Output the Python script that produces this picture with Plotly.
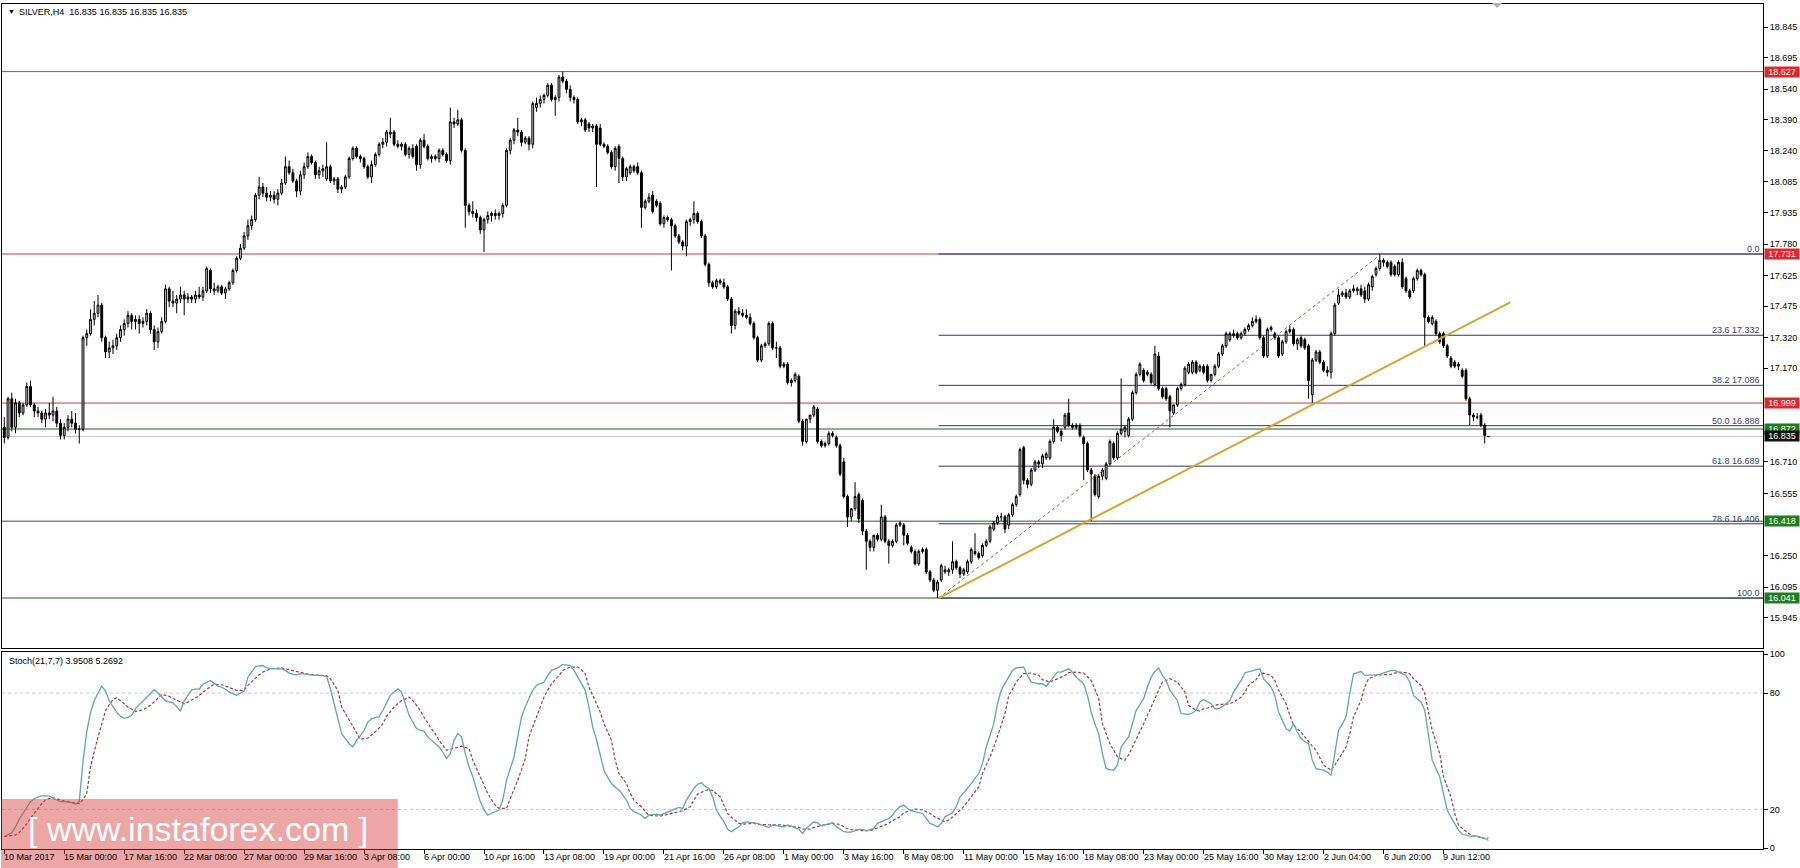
import plotly.graph_objects as go

# ---------------- data ----------------
open_ = [
16.88,16.83,17.02,16.88,17.00,16.95,16.99,17.08,16.99,16.96,
16.95,16.92,16.95,16.94,16.96,16.90,16.84,16.88,16.92,16.90,
16.87,16.87,17.32,17.34,17.41,17.44,17.48,17.32,17.25,17.27,
17.28,17.32,17.36,17.39,17.43,17.40,17.41,17.39,17.40,17.44,
17.36,17.30,17.35,17.40,17.56,17.50,17.49,17.51,17.53,17.51,
17.52,17.51,17.53,17.52,17.55,17.65,17.56,17.55,17.57,17.54,
17.56,17.59,17.65,17.71,17.76,17.82,17.87,17.90,18.02,18.06,
18.03,18.01,18.02,18.00,18.03,18.08,18.16,18.13,18.09,18.04,
18.12,18.16,18.21,18.18,18.12,18.14,18.10,18.16,18.09,18.10,
18.05,18.06,18.11,18.20,18.25,18.21,18.20,18.16,18.11,18.17,
18.22,18.27,18.28,18.32,18.33,18.27,18.26,18.27,18.22,18.25,
18.26,18.17,18.29,18.26,18.20,18.21,18.20,18.24,18.22,18.19,
18.38,18.37,18.39,18.24,17.97,17.94,17.93,17.91,17.85,17.90,
17.92,17.93,17.92,17.93,17.97,18.24,18.29,18.34,18.33,18.28,
18.30,18.27,18.45,18.47,18.49,18.51,18.56,18.49,18.50,18.60,
18.58,18.54,18.50,18.49,18.38,18.39,18.37,18.35,18.36,18.35,
18.27,18.26,18.23,18.16,18.26,18.20,18.11,18.13,18.16,18.16,
18.13,17.96,17.99,18.02,17.99,17.98,17.88,17.91,17.90,17.87,
17.82,17.79,17.77,17.89,17.90,17.93,17.89,17.82,17.68,17.59,
17.57,17.60,17.59,17.57,17.51,17.38,17.45,17.44,17.43,17.42,
17.39,17.32,17.21,17.28,17.29,17.39,17.27,17.27,17.19,17.19,
17.10,17.11,17.13,16.91,16.81,16.92,16.94,16.97,16.81,16.79,
16.80,16.85,16.83,16.79,16.71,16.54,16.44,16.48,16.55,16.52,
16.37,16.32,16.29,16.35,16.33,16.44,16.32,16.30,16.32,16.40,
16.40,16.35,16.29,16.27,16.21,16.27,16.28,16.17,16.13,16.08,
16.13,16.18,16.17,16.18,16.22,16.19,16.16,16.17,16.22,16.27,
16.26,16.25,16.30,16.32,16.38,16.41,16.44,16.44,16.40,16.45,
16.50,16.55,16.78,16.62,16.60,16.67,16.71,16.70,16.73,16.73,
16.81,16.88,16.86,16.88,16.95,16.89,16.88,16.89,16.83,16.80,
16.67,16.64,16.54,16.64,16.63,16.70,16.80,16.73,16.85,16.86,
16.84,16.92,17.05,17.14,17.16,17.14,17.14,17.09,17.23,17.07,
17.07,17.03,16.95,16.99,17.07,17.09,17.15,17.15,17.20,17.16,
17.18,17.18,17.11,17.14,17.18,17.24,17.28,17.31,17.33,17.34,
17.32,17.34,17.36,17.38,17.40,17.41,17.32,17.23,17.36,17.34,
17.32,17.24,17.30,17.35,17.36,17.29,17.32,17.31,17.28,17.04,
17.21,17.25,17.20,17.16,17.15,17.34,17.49,17.53,17.54,17.52,
17.55,17.55,17.56,17.55,17.51,17.57,17.63,17.66,17.69,17.69,
17.69,17.67,17.63,17.69,17.61,17.55,17.55,17.61,17.65,17.63,
17.42,17.39,17.40,17.34,17.34,17.28,17.22,17.20,17.18,17.16,
17.16,17.02,16.94,16.93,16.94,16.89,16.835]

high = [
16.93,17.03,17.05,17.02,17.01,17.00,17.10,17.11,17.00,16.98,
16.96,16.97,17.00,17.03,16.98,16.92,16.90,16.94,16.96,16.95,
16.89,17.33,17.36,17.46,17.50,17.53,17.49,17.33,17.30,17.31,
17.34,17.38,17.41,17.45,17.44,17.43,17.43,17.42,17.46,17.45,
17.38,17.37,17.42,17.58,17.57,17.55,17.53,17.57,17.55,17.54,
17.53,17.55,17.57,17.57,17.67,17.66,17.59,17.58,17.58,17.57,
17.60,17.66,17.72,17.78,17.84,17.90,17.92,18.03,18.11,18.08,
18.06,18.04,18.04,18.05,18.10,18.21,18.19,18.15,18.10,18.14,
18.18,18.23,18.22,18.19,18.16,18.17,18.28,18.17,18.11,18.11,
18.07,18.12,18.21,18.26,18.26,18.22,18.21,18.17,18.19,18.23,
18.28,18.30,18.34,18.40,18.34,18.29,18.28,18.28,18.26,18.27,
18.27,18.30,18.32,18.27,18.22,18.22,18.25,18.25,18.23,18.45,
18.40,18.44,18.40,18.25,17.98,17.99,17.95,17.92,17.91,17.94,
17.94,17.95,17.94,17.98,18.25,18.30,18.35,18.40,18.34,18.31,
18.31,18.48,18.50,18.51,18.52,18.57,18.57,18.51,18.61,18.627,
18.59,18.56,18.51,18.50,18.40,18.40,18.38,18.37,18.37,18.37,
18.28,18.27,18.24,18.26,18.27,18.21,18.16,18.17,18.17,18.18,
18.14,18.00,18.03,18.04,18.00,17.99,17.92,17.92,17.91,17.88,
17.83,17.80,17.90,17.91,17.99,17.94,17.90,17.83,17.69,17.60,
17.61,17.61,17.61,17.58,17.52,17.46,17.47,17.46,17.46,17.44,
17.40,17.33,17.29,17.30,17.40,17.40,17.30,17.28,17.20,17.20,
17.12,17.15,17.14,16.92,16.92,16.94,16.99,16.98,16.82,16.81,
16.86,16.86,16.84,16.80,16.73,16.55,16.48,16.61,16.56,16.53,
16.38,16.33,16.35,16.36,16.50,16.45,16.33,16.33,16.41,16.42,
16.41,16.36,16.30,16.28,16.28,16.29,16.29,16.18,16.14,16.13,
16.21,16.20,16.19,16.32,16.23,16.20,16.19,16.23,16.29,16.36,
16.27,16.31,16.33,16.40,16.42,16.45,16.46,16.45,16.46,16.51,
16.55,16.78,16.79,16.63,16.68,16.72,16.72,16.75,16.76,16.82,
16.92,16.89,16.87,16.95,17.02,16.90,16.90,16.90,16.84,16.81,
16.68,16.65,16.65,16.68,16.71,16.82,16.81,16.86,17.12,16.89,
16.93,17.06,17.15,17.20,17.17,17.16,17.15,17.28,17.25,17.08,
17.08,17.04,16.99,17.08,17.10,17.18,17.20,17.21,17.21,17.19,
17.19,17.19,17.14,17.19,17.25,17.29,17.35,17.35,17.36,17.35,
17.35,17.37,17.39,17.42,17.43,17.42,17.33,17.37,17.38,17.35,
17.33,17.31,17.36,17.38,17.37,17.32,17.33,17.32,17.29,17.22,
17.26,17.26,17.21,17.18,17.35,17.49,17.56,17.55,17.56,17.56,
17.58,17.57,17.58,17.57,17.59,17.63,17.67,17.731,17.71,17.70,
17.70,17.68,17.70,17.71,17.62,17.56,17.62,17.66,17.66,17.64,
17.43,17.43,17.41,17.35,17.35,17.29,17.23,17.21,17.20,17.17,
17.17,17.03,16.95,16.95,16.95,16.90,16.835]

low = [
16.80,16.82,16.86,16.85,16.93,16.94,16.98,16.98,16.93,16.93,
16.90,16.88,16.92,16.91,16.88,16.82,16.82,16.86,16.88,16.85,
16.80,16.86,17.28,17.33,17.38,17.42,17.30,17.22,17.22,17.24,
17.26,17.30,17.33,17.37,17.36,17.36,17.34,17.37,17.38,17.34,
17.26,17.27,17.34,17.39,17.47,17.47,17.44,17.49,17.43,17.49,
17.49,17.49,17.51,17.50,17.54,17.54,17.53,17.54,17.53,17.51,
17.55,17.58,17.64,17.70,17.75,17.80,17.85,17.89,18.00,18.01,
17.99,17.99,17.98,17.97,18.02,18.07,18.12,18.08,18.01,18.02,
18.10,18.15,18.17,18.10,18.10,18.11,18.09,18.08,18.07,18.03,
18.03,18.05,18.10,18.19,18.20,18.18,18.15,18.10,18.08,18.16,
18.21,18.25,18.26,18.30,18.26,18.25,18.24,18.21,18.20,18.20,
18.14,18.15,18.25,18.19,18.18,18.19,18.18,18.21,18.18,18.17,
18.35,18.36,18.23,17.86,17.92,17.91,17.89,17.83,17.74,17.88,
17.89,17.90,17.90,17.91,17.96,18.22,18.27,18.31,18.26,18.27,
18.24,18.25,18.43,18.45,18.47,18.50,18.48,18.41,18.48,18.57,
18.52,18.48,18.47,18.37,18.36,18.33,18.33,18.33,18.06,18.26,
18.25,18.22,18.15,18.14,18.08,18.09,18.09,18.12,18.13,18.12,
17.86,17.95,17.98,17.93,17.96,17.87,17.86,17.89,17.65,17.81,
17.78,17.75,17.72,17.87,17.88,17.88,17.81,17.67,17.57,17.56,
17.56,17.58,17.56,17.50,17.34,17.36,17.43,17.42,17.41,17.38,
17.31,17.20,17.20,17.27,17.28,17.26,17.22,17.17,17.17,17.09,
17.08,17.10,16.90,16.79,16.80,16.90,16.93,16.80,16.78,16.78,
16.79,16.83,16.78,16.64,16.53,16.39,16.42,16.47,16.41,16.35,
16.18,16.27,16.27,16.32,16.32,16.31,16.21,16.29,16.31,16.39,
16.30,16.30,16.26,16.20,16.20,16.26,16.16,16.12,16.07,16.041,
16.12,16.16,16.15,16.16,16.18,16.14,16.15,16.16,16.21,16.25,
16.23,16.24,16.29,16.31,16.37,16.40,16.42,16.36,16.38,16.44,
16.49,16.54,16.60,16.58,16.59,16.66,16.68,16.68,16.72,16.72,
16.80,16.85,16.81,16.87,16.88,16.87,16.87,16.83,16.62,16.66,
16.42,16.54,16.53,16.62,16.62,16.69,16.72,16.72,16.84,16.83,
16.83,16.91,17.04,17.13,17.10,17.13,17.09,17.08,17.06,17.02,
17.01,16.88,16.94,16.98,17.06,17.08,17.14,17.14,17.14,17.15,
17.14,17.10,17.10,17.13,17.17,17.23,17.27,17.30,17.32,17.31,
17.31,17.33,17.35,17.37,17.39,17.31,17.22,17.22,17.35,17.31,
17.22,17.23,17.29,17.34,17.28,17.26,17.27,17.26,17.02,17.00,
17.20,17.19,17.15,17.13,17.12,17.33,17.48,17.52,17.51,17.51,
17.54,17.53,17.52,17.49,17.50,17.55,17.62,17.65,17.67,17.66,
17.62,17.62,17.62,17.56,17.54,17.51,17.54,17.60,17.62,17.28,
17.39,17.38,17.33,17.29,17.27,17.22,17.17,17.17,17.16,17.12,
17.01,16.89,16.91,16.92,16.88,16.80,16.835]

close = [
16.83,17.02,16.88,17.00,16.95,16.99,17.08,16.99,16.96,16.95,
16.92,16.95,16.94,16.96,16.90,16.84,16.88,16.92,16.90,16.87,
16.87,17.32,17.34,17.41,17.44,17.48,17.32,17.25,17.27,17.28,
17.32,17.36,17.39,17.43,17.40,17.41,17.39,17.40,17.44,17.36,
17.30,17.35,17.40,17.56,17.50,17.49,17.51,17.53,17.51,17.52,
17.51,17.53,17.52,17.55,17.66,17.56,17.55,17.57,17.54,17.56,
17.59,17.65,17.71,17.76,17.82,17.87,17.90,18.02,18.06,18.03,
18.01,18.02,18.00,18.03,18.08,18.16,18.13,18.09,18.04,18.12,
18.16,18.21,18.18,18.12,18.14,18.15,18.16,18.09,18.10,18.05,
18.06,18.11,18.20,18.25,18.21,18.20,18.16,18.11,18.17,18.22,
18.27,18.28,18.33,18.33,18.27,18.26,18.27,18.22,18.25,18.21,
18.17,18.29,18.26,18.20,18.21,18.20,18.24,18.22,18.19,18.38,
18.37,18.39,18.24,17.97,17.94,17.93,17.91,17.85,17.90,17.92,
17.93,17.92,17.93,17.97,18.24,18.29,18.34,18.33,18.28,18.30,
18.27,18.47,18.47,18.49,18.51,18.56,18.49,18.50,18.60,18.58,
18.54,18.50,18.49,18.38,18.39,18.34,18.35,18.36,18.27,18.27,
18.26,18.23,18.16,18.25,18.20,18.11,18.15,18.16,18.14,18.13,
17.96,17.99,18.01,17.94,17.97,17.88,17.91,17.90,17.87,17.82,
17.79,17.77,17.89,17.90,17.93,17.89,17.82,17.68,17.59,17.57,
17.60,17.59,17.57,17.51,17.38,17.45,17.44,17.43,17.42,17.39,
17.32,17.21,17.28,17.29,17.39,17.27,17.27,17.18,17.18,17.10,
17.11,17.14,16.91,16.81,16.92,16.94,16.98,16.81,16.79,16.80,
16.85,16.84,16.79,16.65,16.54,16.44,16.48,16.54,16.43,16.37,
16.32,16.29,16.35,16.33,16.44,16.32,16.30,16.32,16.40,16.41,
16.35,16.31,16.27,16.21,16.27,16.28,16.17,16.13,16.08,16.12,
16.20,16.17,16.18,16.22,16.19,16.16,16.18,16.22,16.28,16.26,
16.24,16.30,16.32,16.39,16.41,16.44,16.44,16.38,16.45,16.50,
16.54,16.77,16.62,16.60,16.67,16.71,16.70,16.74,16.75,16.81,
16.88,16.86,16.84,16.94,16.89,16.88,16.89,16.84,16.80,16.67,
16.65,16.55,16.64,16.67,16.70,16.81,16.73,16.85,16.87,16.88,
16.92,17.05,17.14,17.19,17.11,17.15,17.10,17.24,17.07,17.03,
17.02,16.96,16.99,17.07,17.09,17.17,17.19,17.20,17.15,17.18,
17.15,17.11,17.14,17.18,17.24,17.28,17.34,17.34,17.34,17.32,
17.34,17.36,17.38,17.40,17.41,17.32,17.23,17.36,17.37,17.32,
17.23,17.30,17.35,17.36,17.29,17.31,17.28,17.27,17.11,17.21,
17.25,17.20,17.16,17.15,17.34,17.48,17.53,17.54,17.52,17.55,
17.56,17.56,17.53,17.51,17.58,17.62,17.66,17.70,17.70,17.67,
17.63,17.63,17.69,17.57,17.55,17.52,17.61,17.65,17.63,17.42,
17.40,17.42,17.34,17.30,17.28,17.23,17.18,17.18,17.19,17.13,
17.02,16.94,16.93,16.93,16.89,16.84,16.835]

stoch_k = [
6,7,8,11,15,18,21,24,25.5,26.5,
27,27,27,25.6,24.8,24,24,23.6,23.5,22.7,
24,45,60,70,76,80,83.6,81,76,73,
70,68,67,67.5,68.5,72,74,76,78,80,
81.7,80,78,76,75.5,75,73,70.7,76,79,
81.7,82,82,84.5,85.5,86.5,85,83.6,83,82,
80.5,79.5,78.8,80,81,88.2,91,93.7,94,94.2,
93,92.7,92.5,92.5,92.5,91.7,90.3,89.8,89.4,90,
89.8,89.5,89.1,89.1,89.1,88.9,88.6,82.2,74.5,66,
59,56.5,54,52.2,55.6,58,60.8,65,66.8,67.3,
67.7,71,75,78.8,80.5,82.2,80.5,74.5,68.5,65,
61.7,60.8,60.4,57.4,55.5,54,52.2,49.6,46.2,48.8,
55.6,59.1,57.4,48.8,42,36.8,30,24,19.7,17,
18,19,19.7,24.8,35,41,47,57.4,67.7,73,
77,81.4,84,85,85.7,89,91.7,92.5,93.4,94.8,
94.5,94.2,91.7,88.2,85,81.4,72.8,62.5,56,48.8,
40.2,36.5,33.3,31.6,30,27.5,24.8,20.5,18.8,18,
17,15.3,17,17.3,17.6,17,17.9,18.8,19.7,20.3,
21,20.5,24.8,28,30.8,33,33.7,32,30.8,26.5,
19.7,16.5,13.6,9.7,8.5,9.8,11,13.1,13.6,13.3,
13.1,12.8,12,11.3,10.7,12,11.4,11.2,11,12,
11.4,10.5,9.7,7.6,10.2,12,13.6,13.1,11.4,12,
12.4,13.1,11,9.8,8.5,8.3,8.3,9,9.7,9.7,
9,9.5,10.2,12.8,13.6,14.5,15.3,17,19.7,21.4,
22.2,20.5,19.3,18.8,18.3,17.9,15.3,12.8,12,11,
12.8,16.2,17.2,18.3,21.4,26.5,28.5,30.8,33.3,36,
38.5,43.6,52.2,58,64.2,74.5,81.4,85,88.2,91.7,
93,93.2,93.4,89.1,85.7,85.2,84.8,84.8,83.4,86,
88.2,90.8,90.8,91.5,92.5,90.8,88.2,86.5,84.8,78.8,
70.2,64,59.1,48.8,41,40.5,40.2,42.8,52.2,55,
57.4,64.2,71.1,74,77.1,83.1,88.2,91,93,89.1,
86.5,81.4,79,76.2,69.4,69.2,69,69.7,71.1,75.4,
76.6,75.5,74.5,71.9,71.9,73,74.5,76.2,80.5,83.5,
86.5,90.5,90.8,91.4,92,92.5,87.4,85,83.1,78.8,
70.2,66,61.7,60.4,64.2,59.9,56.5,55,53.9,45.4,
41,40.6,40.2,39.3,37.6,48.8,60.8,64,67.7,79.7,
89.9,90.5,91.1,89.1,89.1,89.2,89.4,89.6,90.3,91,
91.7,91.7,90.8,90,89.1,85.7,78.8,77,75.4,71.1,
59.1,45.4,41,36.8,28.2,19.7,16,12.8,9.3,7.3,
6.8,6.2,6.2,6.2,5.6,5,3.9508]

stoch_d = [
6,6.3,6.5,6.8,8,10,12.5,15.5,18,21,
23,25,25.7,26,25.5,24.8,24.3,24,23.7,23.4,
23,25,28.2,42,50,57.4,64,71,74,76.6,
77.6,76.2,74.5,72.8,71.5,70.6,70.8,71.4,72.5,73.7,
75.5,77.6,79.3,78.8,78.3,77.2,76.2,75.3,74.5,75.3,
76.2,77.5,78.8,80.5,82.2,83.4,84.5,84.4,84.3,83.6,
83,82.2,81.4,81.4,81.4,84,86,88,89.5,90.8,
91.7,92.5,92.7,92.9,93,92.5,92,91.5,91,90.5,
90.2,89.8,89.4,89.3,89.2,89.1,89,87.4,84.5,81.4,
72.8,69.5,66,62.5,59,56.2,56.5,56.8,58.5,60,
62,64.2,68,70.5,72.8,74.5,76.2,77,77.9,76.2,
73.5,71.1,67.5,64.2,61.5,59,55.6,53,50.5,51,
51.4,52,52.6,52,51.4,45.4,41,36.8,32.5,28.2,
25,22.2,20.5,20.5,20.5,25.6,30,35,40.5,46.2,
57.4,62.5,67.7,73,77.9,81.5,84.8,87,89,91.7,
92.5,93.4,93.4,93.4,92,90,83.1,79,74.5,70.2,
64.2,60,55.6,45.4,38.5,36,33.3,28.2,24.8,23,
21.4,18.8,17,16.8,16.7,16.5,17,17.5,17.9,18.4,
18.8,19.3,20.5,21.4,24.8,27.9,28.8,29.6,30.3,29.6,
28,26.5,22.2,17.9,16,14.5,12.8,12.4,12.6,12.8,
12.8,12.2,12.1,12,12,12,12,12,11.7,11.4,
11.2,11,10.7,9.8,9.8,9.8,10.7,11.4,11.7,12,
12.4,12.8,12.5,12.2,11,10,9.6,9.3,9.3,9,
9,9,9.7,10.7,11.3,12,12.8,14.2,15.2,16.2,
18.3,19,19.7,20.2,20,19.7,18.8,17.9,16.5,15.3,
14.5,13.6,14.5,16,17.9,19.5,21.4,24,26.5,29,
31.6,38.5,42.5,47.1,52,57.4,63.5,69.4,78.8,82,
85.7,88,90,90.2,90.3,89.7,89.1,86.9,86.3,85.7,
86.5,87.4,88.2,89.1,90.5,90.7,90.8,90.5,90.3,88.5,
86.5,82,77.1,64.2,59,53.9,50.5,47.1,46.2,45.4,
48.1,52,55.6,60,64.2,68.5,72.8,77,81.4,85.7,
86.5,87.4,86.5,85.7,83,80.5,73.7,72.4,71.1,70.7,
71.9,72.3,72.8,73.7,74.2,74.2,74.2,74.5,75.4,76.6,
77.9,80.5,84,85.5,86.9,89.9,90.3,89.7,89.1,86.5,
81.4,78,74.5,68.5,63.4,61.6,59.9,57.4,54.8,52.6,
50.5,46.2,42.8,41.5,40.2,42.8,46.2,49,52.2,59.1,
67.7,72,76.2,83.1,87.4,88.2,89.1,89.4,89.4,89.5,
89.6,90.3,90.8,90.6,90.5,89.9,87.4,85.7,84,79.7,
71.1,60.8,54.8,48.8,36.8,31.5,26.5,17.9,12,10.2,
8.5,7.3,6.4,6,5.6,5,5.2692]

x_labels = ["10 Mar 2017", "15 Mar 00:00", "17 Mar 16:00", "22 Mar 08:00", "27 Mar 00:00",
            "29 Mar 16:00", "3 Apr 08:00", "6 Apr 00:00", "10 Apr 16:00", "13 Apr 08:00",
            "19 Apr 00:00", "21 Apr 16:00", "26 Apr 08:00", "1 May 00:00", "3 May 16:00",
            "8 May 08:00", "11 May 00:00", "15 May 16:00", "18 May 08:00", "23 May 00:00",
            "25 May 16:00", "30 May 12:00", "2 Jun 04:00", "6 Jun 20:00", "9 Jun 12:00"]
x_label_bars = [0, 16, 32, 48, 64, 80, 96, 112, 128, 144, 160, 176, 192, 208, 224,
                240, 256, 272, 288, 304, 320, 336, 352, 368, 384]

price_ticks = [18.845, 18.695, 18.540, 18.390, 18.240, 18.085, 17.935, 17.780, 17.625,
               17.475, 17.320, 17.170, 16.710, 16.555, 16.250, 16.095, 15.945, 15.790]
stoch_ticks = [100, 80, 20, 0]
stoch_levels = [80, 20]

red_levels = [18.627, 17.731, 16.999]
green_levels = [16.872, 16.418, 16.041]
current_price = 16.835

fib_pcts = [0.0, 23.6, 38.2, 50.0, 61.8, 78.6, 100.0]
fib_prices = [17.731, 17.332, 17.086, 16.888, 16.689, 16.406, 16.041]
fib_anchor = [(249.3, 16.041), (367.4, 17.731)]
trend_anchor = [(249.3, 16.041), (401.8, 17.494)]

symbol_text = "SILVER,H4  16.835 16.835 16.835 16.835"
stoch_name = "Stoch(21,7,7)"
watermark = "[ www.instaforex.com ]"

# ---------------- figure ----------------
n = len(close)
assert len(open_) == n and len(high) == n and len(low) == n and len(stoch_k) == n and len(stoch_d) == n, \
    (len(open_), len(high), len(low), len(close), len(stoch_k), len(stoch_d))
bars = list(range(n))

W, H = 1800, 868
ML, MR, MT, MB = 1, 37, 2, 19
PW, PH = W - ML - MR, H - MT - MB
X0 = -(3.3 - ML) / 3.75
X1 = X0 + PW / 3.75

def py(ypix):  # pixel row -> paper y
    return (H - MB - ypix) / PH

def px(xpix):  # pixel column -> paper x
    return (xpix - ML) / PW

FONT = "Liberation Sans"

fig = go.Figure()
fig.add_trace(go.Candlestick(
    x=bars, open=open_, high=high, low=low, close=close,
    increasing=dict(line=dict(color="#000000", width=1), fillcolor="#cfcfcf"),
    decreasing=dict(line=dict(color="#000000", width=1), fillcolor="#000000"),
    whiskerwidth=0, showlegend=False, hoverinfo="skip", xaxis="x", yaxis="y"))
fig.add_trace(go.Scatter(x=bars, y=stoch_d, mode="lines",
                         line=dict(color="#a23c38", width=1.2, dash="3px,2px"),
                         showlegend=False, hoverinfo="skip", xaxis="x2", yaxis="y2"))
fig.add_trace(go.Scatter(x=bars, y=stoch_k, mode="lines",
                         line=dict(color="#5fa8a8", width=1.3),
                         showlegend=False, hoverinfo="skip", xaxis="x2", yaxis="y2"))

shapes = []
for p in red_levels:
    shapes.append(dict(type="line", xref="x", yref="y", x0=X0, x1=X1, y0=p, y1=p,
                       line=dict(color="#b8433e", width=1), layer="below"))
for p in green_levels:
    shapes.append(dict(type="line", xref="x", yref="y", x0=X0, x1=X1, y0=p, y1=p,
                       line=dict(color="#6a966a", width=1.5), layer="below"))
shapes.append(dict(type="line", xref="x", yref="y", x0=X0, x1=X1, y0=current_price, y1=current_price,
                   line=dict(color="#c4c4c4", width=1), layer="below"))
for p in fib_prices:
    shapes.append(dict(type="line", xref="x", yref="y", x0=fib_anchor[0][0], x1=X1, y0=p, y1=p,
                       line=dict(color="#33335e", width=1), layer="below"))
shapes.append(dict(type="line", xref="x", yref="y",
                   x0=fib_anchor[0][0], y0=fib_anchor[0][1], x1=fib_anchor[1][0], y1=fib_anchor[1][1],
                   line=dict(color="#a05050", width=1, dash="3px,3px")))
shapes.append(dict(type="line", xref="x", yref="y",
                   x0=trend_anchor[0][0], y0=trend_anchor[0][1], x1=trend_anchor[1][0], y1=trend_anchor[1][1],
                   line=dict(color="#d2a43a", width=2)))
for s in stoch_levels:
    shapes.append(dict(type="line", xref="x2", yref="y2", x0=X0, x1=X1, y0=s, y1=s,
                       line=dict(color="#c8c8c8", width=1, dash="3px,3px"), layer="below"))
# small chart-shift marker at the top
shapes.append(dict(type="path", xref="paper", yref="paper",
                   path=f"M {px(1492)},{py(1)} L {px(1502)},{py(1)} L {px(1497)},{py(6)} Z",
                   fillcolor="#b0b0b0", line=dict(width=0)))
# watermark box
shapes.append(dict(type="rect", xref="paper", yref="paper",
                   x0=px(0), x1=px(397), y0=py(799), y1=py(870),
                   fillcolor="rgba(214,58,58,0.45)", line=dict(width=0), layer="above"))

ann = []
ann.append(dict(xref="paper", yref="paper", x=px(5), y=py(10), xanchor="left", yanchor="middle",
                text="▼", showarrow=False, font=dict(family=FONT, size=7, color="#000")))
ann.append(dict(xref="paper", yref="paper", x=px(16), y=py(10), xanchor="left", yanchor="middle",
                text=symbol_text.replace("  ", "&nbsp;&nbsp;"), showarrow=False,
                font=dict(family=FONT, size=9, color="#000")))
ann.append(dict(xref="paper", yref="paper", x=px(6), y=py(661), xanchor="left", yanchor="middle",
                text=f"{stoch_name} {stoch_k[-1]:.4f} {stoch_d[-1]:.4f}", showarrow=False,
                font=dict(family=FONT, size=9, color="#000")))
for pct, p in zip(fib_pcts, fib_prices):
    txt = f"{pct:.1f}" if pct in (0.0, 100.0) else f"{pct:.1f} {p:.3f}"
    ann.append(dict(xref="paper", yref="y", x=1, y=p, xanchor="right", yanchor="bottom",
                    xshift=-1, yshift=-2, text=txt, showarrow=False,
                    font=dict(family=FONT, size=9, color="#34407e")))
tags = [(p, "#e0282a") for p in red_levels] + [(p, "#1f7d1f") for p in green_levels] + [(current_price, "#111111")]
tags.sort(key=lambda t: -t[0])
for p, col in tags:
    ann.append(dict(xref="paper", yref="y", x=1, y=p, xanchor="left", yanchor="middle",
                    xshift=1, text=f"{p:.3f}", showarrow=False, bgcolor=col, borderpad=0,
                    width=34, height=10, font=dict(family=FONT, size=9, color="#ffffff")))
ann.append(dict(xref="paper", yref="paper", x=px(197), y=py(829), xanchor="center", yanchor="middle",
                text=watermark, showarrow=False,
                font=dict(family=FONT, size=34, color="#ffffff")))
for b, t in zip(x_label_bars, x_labels):
    ann.append(dict(xref="x2", yref="paper", x=b, y=0, xanchor="left", yanchor="top",
                    xshift=-2, yshift=-1, text=t, showarrow=False,
                    font=dict(family=FONT, size=9, color="#000")))

axis_common = dict(showgrid=False, zeroline=False, showline=True, linecolor="#000000",
                   linewidth=1, mirror=True)
fig.update_layout(
    width=W, height=H, autosize=False,
    margin=dict(l=ML, r=MR, t=MT, b=MB, pad=0),
    paper_bgcolor="#ffffff", plot_bgcolor="#ffffff",
    hovermode=False, showlegend=False,
    xaxis=dict(domain=[0, 1], anchor="y", range=[X0, X1], showticklabels=False, ticks="",
               rangeslider=dict(visible=False), **axis_common),
    yaxis=dict(domain=[py(648), 1], anchor="x", side="right", range=[15.7936, 18.959],
               tickvals=price_ticks, ticktext=[f"{v:.3f}" for v in price_ticks],
               ticks="outside", ticklen=4, tickcolor="#000",
               tickfont=dict(family=FONT, size=9, color="#000"), **axis_common),
    xaxis2=dict(domain=[0, 1], anchor="y2", range=[X0, X1], matches="x",
                tickvals=x_label_bars, showticklabels=False, ticks="outside", ticklen=4,
                tickcolor="#000", **axis_common),
    yaxis2=dict(domain=[0, py(652)], anchor="x2", side="right", range=[-0.43, 100.94],
                tickvals=stoch_ticks, ticktext=[str(v) for v in stoch_ticks],
                ticks="outside", ticklen=4, tickcolor="#000",
                tickfont=dict(family=FONT, size=9, color="#000"), **axis_common),
    shapes=shapes, annotations=ann,
)
fig.write_html("out.html", config={"displayModeBar": False, "staticPlot": True},
               post_script="document.body.style.margin='0';document.body.style.overflow='hidden';")
